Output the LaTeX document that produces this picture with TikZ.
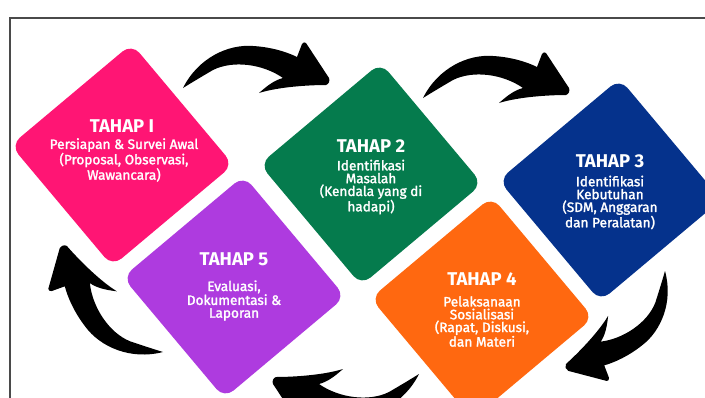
\documentclass[tikz,border=0pt]{standalone}
\usepackage{fontspec}
\setmainfont{Fira Sans}
\newfontfamily\bodyfont{Fira Sans}[FakeBold=1.8]
\definecolor{pinkc}{HTML}{FF1574}
\definecolor{greenc}{HTML}{057B4D}
\definecolor{bluec}{HTML}{05328C}
\definecolor{orangec}{HTML}{FF6810}
\definecolor{purplec}{HTML}{AE3BDF}
\definecolor{framec}{HTML}{4A4A4A}
\tikzset{
  diam/.style={rectangle, minimum size=158pt, rounded corners=12pt, rotate=40, inner sep=0pt},
  ttl/.style={text=white, font=\fontsize{18.5}{18.5}\selectfont\bfseries, inner sep=0pt},
  bdy/.style={text=white, font=\bodyfont\fontsize{13.6}{12.8}\selectfont, align=center, inner sep=0pt},
  pics/swoosh/.style={code={
    \fill[black] (0,0) .. controls (15,-30) and (45,-44) .. (70,-42)
       .. controls (88,-41) and (104,-36) .. (114,-31)
       -- (119,-44) .. controls (120,-46) and (122,-46) .. (123,-45)
       -- (146,-10) .. controls (147,-7) and (146,-4) .. (143,-3)
       .. controls (125,-3) and (95,-1) .. (76,5)
       .. controls (85,-3) and (92,-8) .. (100,-10)
       .. controls (80,-24) and (50,-28) .. (30,-18)
       .. controls (18,-11) and (8,-5) .. (0,0) -- cycle;
  }}
}
\begin{document}
\begin{tikzpicture}[x=1pt,y=-1pt]
\useasboundingbox (0,0) rectangle (705,397);
\clip (0,0) rectangle (705,397);
\fill[white] (0,0) rectangle (705,397);
\draw[framec, line width=1.8pt] (10,18) rectangle (730,430);
% diamonds
\node[diam, fill=pinkc]   (d1) at (122,155) {};
\node[diam, fill=greenc]  (d2) at (371,174) {};
\node[diam, fill=bluec]   (d3) at (610,190) {};
\node[diam, fill=orangec] (d4) at (482,308) {};
\node[diam, fill=purplec] (d5) at (234,287) {};
% titles
\node[ttl] (t1) at (122,126) {TAHAP I};
\node[ttl] (t2) at (371,146) {TAHAP 2};
\node[ttl] (t3) at (610,161) {TAHAP 3};
\node[ttl] (t4) at (482,279) {TAHAP 4};
\node[ttl] (t5) at (234,259) {TAHAP 5};
% bodies
\node[bdy] (b1) at (124,160) {Persiapan \& Survei Awal\\(Proposal, Observasi,\\Wawancara)};
\node[bdy] (b2) at (371,187) {Identifikasi\\Masalah\\(Kendala yang di\\hadapi)};
\node[bdy] (b3) at (610,202.5) {Identifikasi\\Kebutuhan\\(SDM, Anggaran\\dan Peralatan)};
\node[bdy] (b4) at (482,321.5) {Pelaksanaan\\Sosialisasi\\(Rapat, Diskusi,\\dan Materi};
\node[bdy] (b5) at (234,300.5) {Evaluasi,\\Dokumentasi \&\\Laporan};
% arrows
\pic at (183,88) {swoosh};
\pic at (423,98) {swoosh};
\pic[rotate=-138, scale=0.95] at (665,271) {swoosh};
\pic[rotate=180] at (419,374) {swoosh};
\pic[rotate=131] at (163,352) {swoosh};
\end{tikzpicture}
\end{document}
